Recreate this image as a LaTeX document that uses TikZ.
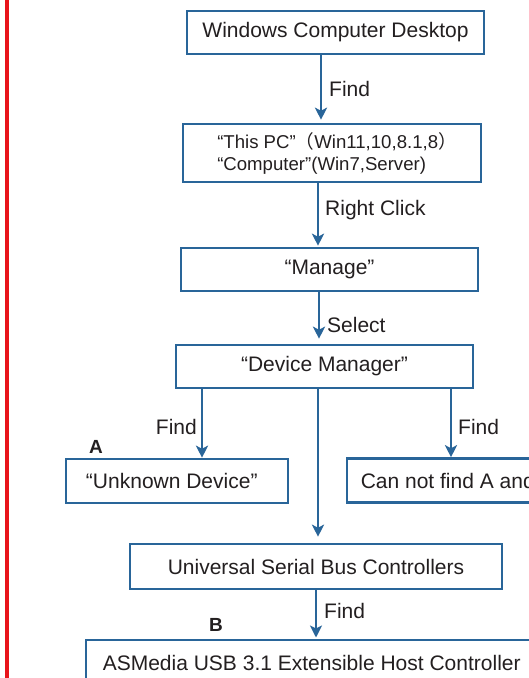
\documentclass[tikz,border=0pt]{standalone}
\usepackage{fontspec}
\setmainfont{Liberation Sans}
\newfontfamily\cjkfont{Noto Sans CJK SC}
\usetikzlibrary{arrows.meta}
\definecolor{flowblue}{RGB}{41,101,153}
\definecolor{txt}{RGB}{35,31,32}
\definecolor{redbar}{RGB}{232,20,27}
\begin{document}
\begin{tikzpicture}[x=1pt,y=-1pt,
  box/.style={draw=flowblue, line width=2.6pt, rectangle, inner sep=0pt, text=txt,
    font=\fontsize{21}{25}\selectfont},
  arr/.style={draw=flowblue, line width=2.4pt, -{Stealth[length=12pt,width=12pt,inset=3pt]}},
  lbl/.style={text=txt, font=\fontsize{21}{25}\selectfont, inner sep=0pt},
  letter/.style={text=txt, font=\bfseries\fontsize{19}{23}\selectfont, inner sep=0pt}]
\useasboundingbox (0,0) rectangle (529,678);
\clip (0,0) rectangle (529,678);
\fill[white] (0,0) rectangle (529,678);
% red bar
\draw[redbar, line width=4pt] (7,-5) -- (7,690);

% boxes
\node[box, minimum width=297pt, minimum height=43pt] (b1) at (335.5,32.5) {Windows Computer Desktop};
\node[box, minimum width=298pt, minimum height=58pt, align=flush left,
  font=\fontsize{18.6}{22}\selectfont] (b2) at (332,153)
  {\hspace*{10pt}“This PC”{\cjkfont （}Win11,10,8.1,8{\cjkfont ）}\\\hspace*{10pt}“Computer”(Win7,Server)};
\node[box, minimum width=297pt, minimum height=43pt] (b3) at (329.5,269.5) {“Manage”};
\node[box, minimum width=297pt, minimum height=43pt] (b4) at (324.5,366.5) {“Device Manager”};
\node[box, minimum width=222pt, minimum height=44pt, text width=200pt, inner xsep=11pt, align=flush left] (bu) at (177,481) {\hspace*{9pt}“Unknown Device”};
\node[box, anchor=west, minimum height=44pt, text width=300pt, inner xsep=14pt, align=flush left] (bc) at (345.5,480.5) {Can not find A and B};
\node[box, minimum width=372pt, minimum height=45pt] (bs) at (316,566.5) {Universal Serial Bus Controllers};
\node[box, anchor=north west, minimum height=46pt, text width=440pt, inner xsep=17pt, align=flush left] (ba) at (84.5,638.5) {ASMedia USB 3.1 Extensible Host Controller};

% arrow start points
\coordinate (dl) at ([xshift=-122.5pt]b4.south);
\coordinate (dr) at ([xshift=126.5pt]b4.south);
\coordinate (dm) at ([xshift=-6.5pt]b4.south);

% arrows
\draw[arr, shorten >=3pt] ([xshift=-14.5pt]b1.south) -- ([xshift=-11pt]b2.north);
\draw[arr, shorten >=1pt] ([xshift=-14pt]b2.south) -- ([xshift=-11.5pt]b3.north);
\draw[arr, shorten >=5pt] ([xshift=-10.5pt]b3.south) -- ([xshift=-5.5pt]b4.north);
\draw[arr] (dl) -- (dl |- bu.north);
\draw[arr] (dr) -- (dr |- bc.north);
\draw[arr, shorten >=6pt] (dm) -- (dm |- bs.north);
\draw[arr, shorten >=1pt] (bs.south) -- (bs.south |- ba.north);

% labels
\node[lbl, anchor=west] (l1) at (329,89) {Find};
\node[lbl, anchor=west] (l2) at (325,210) {Right Click};
\node[lbl, anchor=west] (l3) at (327,325) {Select};
\node[lbl, anchor=east] (l4) at (197,427) {Find};
\node[lbl, anchor=west] (l5) at (458,427) {Find};
\node[lbl, anchor=west] (l6) at (324,611) {Find};
\node[letter] (la) at (96,447) {A};
\node[letter] (lb) at (216,625) {B};
\end{tikzpicture}
\end{document}
